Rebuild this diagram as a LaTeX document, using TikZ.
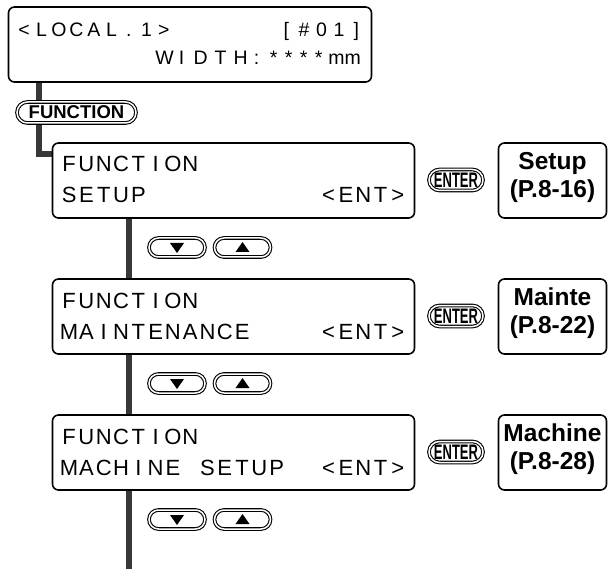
\documentclass[tikz,border=0pt]{standalone}
\usepackage{fontspec}
\setmainfont{Liberation Sans}
\newfontfamily\keyfont{Liberation Sans Bold}
\newfontfamily\enterfont[FakeStretch=0.62]{Liberation Sans Bold}
\usetikzlibrary{shapes.misc,backgrounds}
\newlength\lcdpitch
\def\lcdloop#1{\ifx#1\relax\else\makebox[\lcdpitch][c]{#1}\expandafter\lcdloop\fi}
\newcommand\lcdtext[2]{\setlength\lcdpitch{#1}\lcdloop#2\relax}
\newcommand\cpos[2]{\rlap{\hspace*{#1pt}\makebox[0pt][c]{#2}}}
\newcommand\lcdbig{\fontsize{22}{24}\selectfont}
\newcommand\lcdsmall{\fontsize{19.5}{22}\selectfont}
\begin{document}
\begin{tikzpicture}[x=1pt,y=-1pt,
  lcd/.style={draw, line width=1.6pt, rounded corners=6pt, inner sep=0pt, minimum height=75pt, fill=white},
  keycap/.style={rounded rectangle, draw, double, double distance=1.5pt, line width=1.1pt, inner sep=0pt, fill=white},
  conn/.style={line width=6pt, draw=black!78},
  lcdline/.style={anchor=base west, inner sep=0pt},
  reftext/.style={anchor=base, inner sep=0pt, font=\bfseries\fontsize{24.5}{26}\selectfont},
  fnkey/.style={keycap, minimum width=119pt, minimum height=21pt, font=\keyfont\fontsize{18.5}{20}\selectfont},
  enterkey/.style={keycap, minimum width=54pt, minimum height=21pt, font=\enterfont\fontsize{21}{21}\selectfont},
  arrowkey/.style={keycap, minimum width=56pt, minimum height=19pt}
]
\useasboundingbox (0,0) rectangle (610,569);

% LCD boxes
\node[lcd, minimum width=363pt] (top) at (190,44.5) {};
\node[lcd, minimum width=362pt] (b1) at (233.5,180.5) {};
\node[lcd, minimum width=362pt] (b2) at (233.5,316.5) {};
\node[lcd, minimum width=362pt] (b3) at (233.5,452.5) {};

% reference boxes
\node[lcd, minimum width=108pt] (r1) at (552.5,180.5) {};
\node[lcd, minimum width=108pt] (r2) at (552.5,316.5) {};
\node[lcd, minimum width=108pt] (r3) at (552.5,452.5) {};

% LCD texts
\node[lcdline, font=\lcdsmall] (ta) at (15,36.5) {\lcdtext{17.5pt}{<LOCAL.1>~~~~~~[\#01]}};
\node[lcdline, font=\lcdsmall] (tb) at (0,65) {\cpos{164}{W}\cpos{181}{I}\cpos{200}{D}\cpos{220}{T}\cpos{240}{H}\cpos{256}{:}\cpos{273}{*}\cpos{288}{*}\cpos{303}{*}\cpos{318}{*}\cpos{344}{mm}};
\node[lcdline, font=\lcdbig] (t1a) at (60.3,172) {\lcdtext{17.3pt}{FUNCTION}};
\node[lcdline, font=\lcdbig] (t1b) at (60.3,203) {\lcdtext{17.3pt}{SETUP~~~~~~~~~~<ENT>}};
\node[lcdline, font=\lcdbig] (t2a) at (60.3,308) {\lcdtext{17.3pt}{FUNCTION}};
\node[lcdline, font=\lcdbig] (t2b) at (60.3,339) {\lcdtext{17.3pt}{MAINTENANCE~~~~<ENT>}};
\node[lcdline, font=\lcdbig] (t3a) at (60.3,444) {\lcdtext{17.3pt}{FUNCTION}};
\node[lcdline, font=\lcdbig] (t3b) at (60.3,475) {\lcdtext{17.3pt}{MACHINE~SETUP~~<ENT>}};

% reference texts
\node[reftext] (s1a) at ([shift={(0,27)}]r1.north) {Setup};
\node[reftext] (s1b) at ([shift={(0,55)}]r1.north) {(P.8-16)};
\node[reftext] (s2a) at ([shift={(0,27)}]r2.north) {Mainte};
\node[reftext] (s2b) at ([shift={(0,55)}]r2.north) {(P.8-22)};
\node[reftext] (s3a) at ([shift={(0,27)}]r3.north) {Machine};
\node[reftext] (s3b) at ([shift={(0,55)}]r3.north) {(P.8-28)};

% keys
\node[fnkey] (fkey) at (76.5,112.5) {FUNCTION};
\node[enterkey] (e1) at (456,180) {ENTER};
\node[enterkey] (e2) at (456,316) {ENTER};
\node[enterkey] (e3) at (456,452) {ENTER};

\node[arrowkey] (d1) at (177,247.5) {};
\node[arrowkey] (u1) at (242.5,247.5) {};
\node[arrowkey] (d2) at (177,383.5) {};
\node[arrowkey] (u2) at (242.5,383.5) {};
\node[arrowkey] (d3) at (177,519.5) {};
\node[arrowkey] (u3) at (242.5,519.5) {};

\foreach \k in {d1,d2,d3}
  \fill ([shift={(-7,-4.5)}]\k.center) -- ([shift={(7,-4.5)}]\k.center) -- ([shift={(0,5.5)}]\k.center) -- cycle;
\foreach \k in {u1,u2,u3}
  \fill ([shift={(-7,4.5)}]\k.center) -- ([shift={(7,4.5)}]\k.center) -- ([shift={(0,-5.5)}]\k.center) -- cycle;

% connectors
\coordinate (lx) at (38.5,0);
\coordinate (tx) at (129,0);
\coordinate (j1) at (52,154.5);
\coordinate (bend) at (129,569);
\begin{scope}[on background layer]
  \draw[conn] (top.south -| lx) -- (fkey.north -| lx);
  \draw[conn] (fkey.south -| lx) |- (j1);
  \draw[conn] (b1.south -| tx) -- (b2.north -| tx);
  \draw[conn] (b2.south -| tx) -- (b3.north -| tx);
  \draw[conn] (b3.south -| tx) -- (bend);
\end{scope}
\end{tikzpicture}
\end{document}
